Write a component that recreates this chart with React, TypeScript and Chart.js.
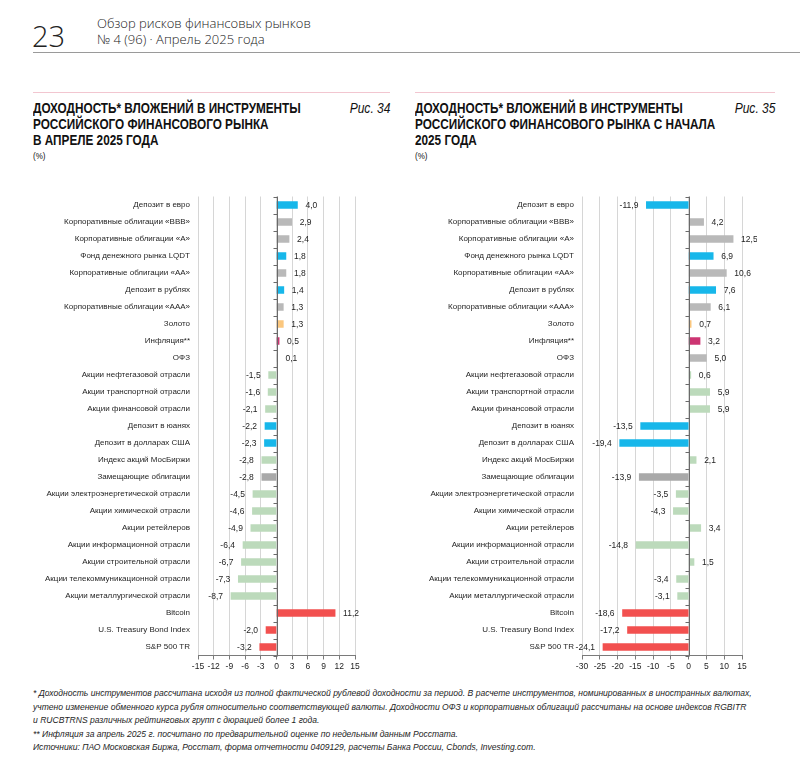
import React, { useEffect, useRef } from "react";
import { Chart, registerables } from "chart.js";
Chart.register(...registerables);

const categories = [
  "Депозит в евро",
  "Корпоративные облигации «BBB»",
  "Корпоративные облигации «A»",
  "Фонд денежного рынка LQDT",
  "Корпоративные облигации «AA»",
  "Депозит в рублях",
  "Корпоративные облигации «AAA»",
  "Золото",
  "Инфляция**",
  "ОФЗ",
  "Акции нефтегазовой отрасли",
  "Акции транспортной отрасли",
  "Акции финансовой отрасли",
  "Депозит в юанях",
  "Депозит в долларах США",
  "Индекс акций МосБиржи",
  "Замещающие облигации",
  "Акции электроэнергетической отрасли",
  "Акции химической отрасли",
  "Акции ретейлеров",
  "Акции информационной отрасли",
  "Акции строительной отрасли",
  "Акции телекоммуникационной отрасли",
  "Акции металлургической отрасли",
  "Bitcoin",
  "U.S. Treasury Bond Index",
  "S&P 500 TR",
];

const aprilValues = [
  4.0, 2.9, 2.4, 1.8, 1.8, 1.4, 1.3, 1.3, 0.5, 0.1, -1.5, -1.6, -2.1, -2.2, -2.3,
  -2.8, -2.8, -4.5, -4.6, -4.9, -6.4, -6.7, -7.3, -8.7, 11.2, -2.0, -3.2,
];

const ytdValues = [
  -11.9, 4.2, 12.5, 6.9, 10.6, 7.6, 6.1, 0.7, 3.2, 5.0, 0.6, 5.9, 5.9, -13.5, -19.4,
  2.1, -13.9, -3.5, -4.3, 3.4, -14.8, 1.5, -3.4, -3.1, -18.6, -17.2, -24.1,
];

const groups = [
  "blue", "gray", "gray", "blue", "gray", "blue", "gray", "gold", "magenta", "gray",
  "green", "green", "green", "blue", "blue", "green", "darkgray", "green", "green",
  "green", "green", "green", "green", "green", "red", "red", "red",
];

const palette: Record<string, string> = {
  blue: "#17b7ea",
  gray: "#b9b9b9",
  darkgray: "#a9a9a9",
  gold: "#fbc77e",
  magenta: "#cc3572",
  green: "#bcdabb",
  red: "#f2504f",
};

const leftAxis = { min: -15, max: 15, step: 3 };
const rightAxis = { min: -30, max: 15, step: 5 };

const fmt = (v: number) => v.toFixed(1).replace(".", ",");

const overlayPlugin = {
  id: "overlay",
  afterDatasetsDraw(chart: any) {
    const { ctx, chartArea, scales } = chart;
    const xs = scales.x;
    const x0 = Math.round(xs.getPixelForValue(0)) + 0.5;
    const n = chart.data.labels.length;
    const band = (chartArea.bottom - chartArea.top) / n;
    ctx.save();
    ctx.strokeStyle = "#6a6a6a";
    ctx.lineWidth = 1;
    ctx.beginPath();
    ctx.moveTo(x0, chartArea.top);
    ctx.lineTo(x0, chartArea.bottom);
    for (let i = 0; i <= n; i++) {
      const y = Math.round(chartArea.top + i * band) + 0.5;
      ctx.moveTo(x0 - 4, y);
      ctx.lineTo(x0, y);
    }
    ctx.stroke();

    const meta = chart.getDatasetMeta(0);
    const vals = chart.data.datasets[0].data as number[];
    ctx.fillStyle = "#1e1e1e";
    ctx.font = "8.5px 'Liberation Sans', Arial, sans-serif";
    ctx.textBaseline = "middle";
    meta.data.forEach((el: any, i: number) => {
      const v = vals[i];
      if (v >= 0) {
        ctx.textAlign = "left";
        ctx.fillText(fmt(v), Math.max(el.x, x0) + 8, el.y + 1);
      } else {
        ctx.textAlign = "right";
        ctx.fillText(fmt(v), el.x - 8, el.y + 1);
      }
    });
    ctx.restore();
  },
};

function BarChart(props: {
  values: number[];
  axis: { min: number; max: number; step: number };
  left: number;
  top: number;
  width: number;
  height: number;
  yWidth: number;
}) {
  const ref = useRef<HTMLCanvasElement>(null);
  useEffect(() => {
    if (!ref.current) return;
    const chart = new Chart(ref.current, {
      type: "bar",
      data: {
        labels: categories,
        datasets: [
          {
            data: props.values,
            backgroundColor: groups.map((g) => palette[g]),
            barThickness: 7,
            borderWidth: 0,
          },
        ],
      },
      options: {
        indexAxis: "y",
        animation: false,
        responsive: false,
        devicePixelRatio: 1,
        layout: { padding: { top: 6.5, right: 15, left: 0, bottom: 0 } },
        plugins: { legend: { display: false }, tooltip: { enabled: false } },
        scales: {
          x: {
            min: props.axis.min,
            max: props.axis.max,
            ticks: {
              stepSize: props.axis.step,
              font: { size: 8.5, family: "'Liberation Sans', Arial, sans-serif" },
              color: "#1e1e1e",
              padding: 2,
              maxRotation: 0,
              autoSkip: false,
            },
            grid: {
              color: "#d6d6d6",
              tickColor: "#7a7a7a",
              tickLength: 4,
              drawTicks: true,
            },
            border: { display: true, color: "#7a7a7a" },
            afterFit: (s: any) => {
              s.height = 24.5;
            },
          },
          y: {
            ticks: {
              font: { size: 8, family: "'Liberation Sans', Arial, sans-serif" },
              color: "#1e1e1e",
              padding: 8,
              autoSkip: false,
            },
            grid: { display: false, drawTicks: false },
            border: { display: false },
            afterFit: (s: any) => {
              s.width = props.yWidth;
              s.paddingTop = 0;
              s.paddingBottom = 0;
            },
          },
        },
      },
      plugins: [overlayPlugin],
    });
    return () => chart.destroy();
  }, []);
  return (
    <canvas
      ref={ref}
      width={props.width}
      height={props.height}
      style={{
        position: "absolute",
        left: props.left,
        top: props.top,
        width: props.width,
        height: props.height,
      }}
    />
  );
}

const textFont = "'Liberation Sans', Arial, sans-serif";

function Title(props: { left: number; right: number; lines: string[]; fig: string }) {
  return (
    <div
      style={{
        position: "absolute",
        left: props.left,
        top: 100,
        width: props.right - props.left,
        fontFamily: textFont,
      }}
    >
      {props.lines.map((l, i) => (
        <div
          key={i}
          style={{
            fontWeight: 700,
            fontSize: 14,
            lineHeight: "16px",
            color: "#111",
            whiteSpace: "nowrap",
            transform: "scaleX(0.84)",
            transformOrigin: "left center",
          }}
        >
          {l}
        </div>
      ))}
      <div
        style={{
          fontSize: 9.5,
          lineHeight: "14px",
          color: "#111",
          marginTop: 1,
          transform: "scaleX(0.84)",
          transformOrigin: "left center",
        }}
      >
        (%)
      </div>
      <div
        style={{
          position: "absolute",
          right: 0,
          top: 0,
          fontStyle: "italic",
          fontSize: 14,
          lineHeight: "16px",
          color: "#111",
          whiteSpace: "nowrap",
          transform: "scaleX(0.86)",
          transformOrigin: "right center",
        }}
      >
        {props.fig}
      </div>
    </div>
  );
}

const footnotes = [
  "* Доходность инструментов рассчитана исходя из полной фактической рублевой доходности за период. В расчете инструментов, номинированных в иностранных валютах,",
  "учтено изменение обменного курса рубля относительно соответствующей валюты. Доходности ОФЗ и корпоративных облигаций рассчитаны на основе индексов RGBITR",
  "и RUCBTRNS различных рейтинговых групп с дюрацией более 1 года.",
  "** Инфляция за апрель 2025 г. посчитано по предварительной оценке по недельным данным Росстата.",
  "Источники: ПАО Московская Биржа, Росстат, форма отчетности 0409129, расчеты Банка России, Cbonds, Investing.com.",
];

export default function App() {
  return (
    <div
      style={{
        position: "absolute",
        left: 0,
        top: 0,
        width: 800,
        height: 779,
        background: "#fff",
        overflow: "hidden",
      }}
    >
      <div
        style={{
          position: "absolute",
          left: 32,
          top: 19,
          fontFamily: "'Open Sans', Lato, sans-serif",
          fontWeight: 300,
          fontSize: 29,
          lineHeight: "34px",
          color: "#222",
        }}
      >
        23
      </div>
      <div
        style={{
          position: "absolute",
          left: 97,
          top: 15,
          fontFamily: "'Open Sans', Lato, sans-serif",
          fontWeight: 300,
          fontSize: 13,
          lineHeight: "16px",
          color: "#222",
        }}
      >
        <div>Обзор рисков финансовых рынков</div>
        <div>№ 4 (96) · Апрель 2025 года</div>
      </div>
      <div style={{ position: "absolute", left: 33, top: 52, width: 767, height: 1, background: "#9a9a9a" }} />
      <div style={{ position: "absolute", left: 33, top: 92, width: 357, height: 1, background: "#f2c6d0" }} />
      <div style={{ position: "absolute", left: 415, top: 92, width: 360, height: 1, background: "#f2c6d0" }} />

      <Title
        left={33}
        right={390}
        lines={[
          "ДОХОДНОСТЬ* ВЛОЖЕНИЙ В ИНСТРУМЕНТЫ",
          "РОССИЙСКОГО ФИНАНСОВОГО РЫНКА",
          "В АПРЕЛЕ 2025 ГОДА",
        ]}
        fig="Рис. 34"
      />
      <Title
        left={415}
        right={775}
        lines={[
          "ДОХОДНОСТЬ* ВЛОЖЕНИЙ В ИНСТРУМЕНТЫ",
          "РОССИЙСКОГО ФИНАНСОВОГО РЫНКА С НАЧАЛА",
          "2025 ГОДА",
        ]}
        fig="Рис. 35"
      />

      <BarChart values={aprilValues} axis={leftAxis} left={30} top={190} width={340} height={490} yWidth={168} />
      <BarChart values={ytdValues} axis={rightAxis} left={410} top={190} width={347} height={490} yWidth={172} />

      <div
        style={{
          position: "absolute",
          left: 33,
          top: 686,
          fontFamily: textFont,
          fontStyle: "italic",
          fontSize: 9.5,
          lineHeight: "13.5px",
          color: "#1e1e1e",
        }}
      >
        {footnotes.map((f, i) => (
          <div
            key={i}
            style={{ whiteSpace: "nowrap", transform: "scaleX(0.9)", transformOrigin: "left center" }}
          >
            {f}
          </div>
        ))}
      </div>
    </div>
  );
}
